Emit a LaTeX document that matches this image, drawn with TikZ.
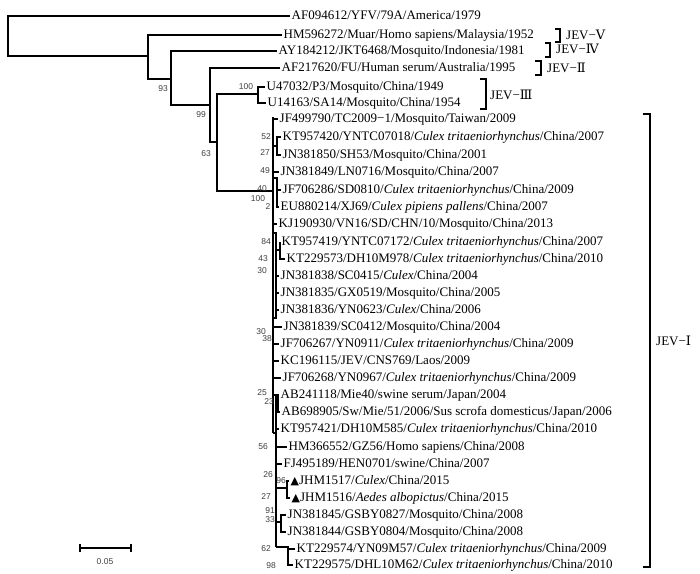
\documentclass[tikz,border=0pt]{standalone}
\usepackage{fontspec}
\setmainfont{Liberation Serif}
\newfontfamily\bsfont{Liberation Sans}
\newfontfamily\romfont{DejaVu Serif}
\newfontfamily\symfont{DejaVu Sans}
\begin{document}
\begin{tikzpicture}[x=1pt,y=-1pt,
  br/.style={line width=1.1pt},
  spine/.style={line width=1.8pt},
  leaf/.style={anchor=west,inner xsep=1.5pt,inner ysep=0pt,font=\fontsize{13}{13}\selectfont,text height=9pt,text depth=3pt},
  bs/.style={font=\bsfont\fontsize{8.5}{8.5}\selectfont,text=black!75,inner sep=0pt},
  clade/.style={anchor=west,font=\fontsize{13}{13}\selectfont,inner sep=0pt},
  brk/.style={line width=1.3pt}]
\useasboundingbox (0,0) rectangle (700,573);
% leaves
\node[leaf] (L1) at (290,16) {AF094612/YFV/79A/America/1979};
\node[leaf] (L2) at (282,35) {HM596272/Muar/Homo sapiens/Malaysia/1952};
\node[leaf] (L3) at (277,51) {AY184212/JKT6468/Mosquito/Indonesia/1981};
\node[leaf] (L4) at (280,68) {AF217620/FU/Human serum/Australia/1995};
\node[leaf] (L5) at (265,87) {U47032/P3/Mosquito/China/1949};
\node[leaf] (L6) at (266,103) {U14163/SA14/Mosquito/China/1954};
\node[leaf] (L7) at (278,119) {JF499790/TC2009−1/Mosquito/Taiwan/2009};
\node[leaf] (L8) at (281,137) {KT957420/YNTC07018/\textit{Culex tritaeniorhynchus}/China/2007};
\node[leaf] (L9) at (281,155) {JN381850/SH53/Mosquito/China/2001};
\node[leaf] (L10) at (279,172) {JN381849/LN0716/Mosquito/China/2007};
\node[leaf] (L11) at (281,190) {JF706286/SD0810/\textit{Culex tritaeniorhynchus}/China/2009};
\node[leaf] (L12) at (279,207) {EU880214/XJ69/\textit{Culex pipiens pallens}/China/2007};
\node[leaf] (L13) at (277,224) {KJ190930/VN16/SD/CHN/10/Mosquito/China/2013};
\node[leaf] (L14) at (280,242) {KT957419/YNTC07172/\textit{Culex tritaeniorhynchus}/China/2007};
\node[leaf] (L15) at (285,259) {KT229573/DH10M978/\textit{Culex tritaeniorhynchus}/China/2010};
\node[leaf] (L16) at (279,276) {JN381838/SC0415/\textit{Culex}/China/2004};
\node[leaf] (L17) at (279,293) {JN381835/GX0519/Mosquito/China/2005};
\node[leaf] (L18) at (279,310) {JN381836/YN0623/\textit{Culex}/China/2006};
\node[leaf] (L19) at (282,327) {JN381839/SC0412/Mosquito/China/2004};
\node[leaf] (L20) at (279,344) {JF706267/YN0911/\textit{Culex tritaeniorhynchus}/China/2009};
\node[leaf] (L21) at (279,361) {KC196115/JEV/CNS769/Laos/2009};
\node[leaf] (L22) at (281,378) {JF706268/YN0967/\textit{Culex tritaeniorhynchus}/China/2009};
\node[leaf] (L23) at (279,395) {AB241118/Mie40/swine serum/Japan/2004};
\node[leaf] (L24) at (280,412) {AB698905/Sw/Mie/51/2006/Sus scrofa domesticus/Japan/2006};
\node[leaf] (L25) at (279,429) {KT957421/DH10M585/\textit{Culex tritaeniorhynchus}/China/2010};
\node[leaf] (L26) at (287,447) {HM366552/GZ56/Homo sapiens/China/2008};
\node[leaf] (L27) at (282,464) {FJ495189/HEN0701/swine/China/2007};
\node[leaf] (L28) at (289,481) {{\symfont\fontsize{11}{11}\selectfont ▲}JHM1517/\textit{Culex}/China/2015};
\node[leaf] (L29) at (290,498) {{\symfont\fontsize{11}{11}\selectfont ▲}JHM1516/\textit{Aedes albopictus}/China/2015};
\node[leaf] (L30) at (286,515) {JN381845/GSBY0827/Mosquito/China/2008};
\node[leaf] (L31) at (286,532) {JN381844/GSBY0804/Mosquito/China/2008};
\node[leaf] (L32) at (295,549) {KT229574/YN09M57/\textit{Culex tritaeniorhynchus}/China/2009};
\node[leaf] (L33) at (293,565) {KT229575/DHL10M62/\textit{Culex tritaeniorhynchus}/China/2010};
% internal nodes
\coordinate (nR) at (8,36);
\coordinate (nA) at (148,56);
\coordinate (nB) at (171,79);
\coordinate (nC) at (210,105);
\coordinate (nD) at (217,142);
\coordinate (n3) at (258,94);
\coordinate (nI) at (273,191);
\draw[br] (L1.west) -| (nR) |- (nA);
\draw[br] (L2.west) -| (nA) |- (nB);
\draw[br] (L3.west) -| (nB) |- (nC);
\draw[br] (L4.west) -| (nC) |- (nD);
\draw[br] (n3) -| (nD) |- (nI);
\draw[br] (L5.west) -| (n3) |- (L6.west);
% JEV-I clade
\coordinate (sT) at (273,117);
\coordinate (sM) at (273,433);
\coordinate (sM2) at (276,433);
\coordinate (sB) at (276,547);
\draw[spine] (sT) -- (sM);
\draw[line width=1.5pt] (sM) -- (sM2) -- (sB);
\coordinate (n52) at (277,146);
\coordinate (nbox) at (277,198);
\coordinate (nin) at (276,233);
\coordinate (nin2) at (276,318);
\coordinate (n84) at (280,250);
\coordinate (nab) at (278,403);
\coordinate (nab0) at (276,395);
\coordinate (n96) at (287,488);
\coordinate (n91) at (281,522);
\coordinate (n62) at (288,547);
\draw[br] (273,119) -- (L7.west);
\draw[br] (L8.west) -| (n52) |- (L9.west);
\draw[br] (273,146) -- (n52);
\draw[br] (273,172) -- (L10.west);
\draw[br] (L11.west) -| (nbox) |- (L12.west);
\draw[br] (274,178) -- (277,178) -- (nbox);
\draw[br] (273,224) -- (L13.west);
\draw[br] (273,233) -- (nin) -- (nin2) -- (273,318);
\draw[br] (L14.west) -| (n84) |- (L15.west);
\draw[br] (nin |- n84) -- (n84);
\draw[br] (276,276) -- (L16.west);
\draw[br] (276,293) -- (L17.west);
\draw[br] (276,310) -- (L18.west);
\draw[br] (273,327) -- (L19.west);
\draw[br] (273,344) -- (L20.west);
\draw[br] (273,361) -- (L21.west);
\draw[br] (273,378) -- (L22.west);
\draw[br] (273,395) -- (nab0) -- (sM2);
\draw[br] (L23.west) -| (nab) |- (L24.west);
\draw[br] (276,403) -- (nab);
\draw[br] (276,429) -- (L25.west);
\draw[br] (276,447) -- (L26.west);
\draw[br] (276,464) -- (L27.west);
\draw[br] (L28.west) -| (n96) |- (L29.west);
\draw[br] (276,488) -- (n96);
\draw[br] (L30.west) -| (n91) |- (L31.west);
\draw[br] (276,522) -- (n91);
\draw[br] (sB) -- (n62) |- (L33.west);
\draw[br] (288,549) -- (L32.west);
% bootstrap values
\node[bs] at (163,89) {93};
\node[bs] at (201,115) {99};
\node[bs] at (206,154) {63};
\node[bs] at (246,87) {100};
\node[bs] at (266,137) {52};
\node[bs] at (265,153) {27};
\node[bs] at (265,171) {49};
\node[bs] at (262,189) {40};
\node[bs] at (258,199) {100};
\node[bs] at (268,207) {2};
\node[bs] at (266,242) {84};
\node[bs] at (263,259) {43};
\node[bs] at (262,271) {30};
\node[bs] at (261,332) {30};
\node[bs] at (267,339) {38};
\node[bs] at (262,393) {25};
\node[bs] at (269,402) {23};
\node[bs] at (263,447) {56};
\node[bs] at (268,475) {26};
\node[bs] at (281,481) {96};
\node[bs] at (266,497) {27};
\node[bs] at (270,511) {91};
\node[bs] at (270,520) {33};
\node[bs] at (266,549) {62};
\node[bs] at (271,566) {98};
% clade brackets
\draw[brk] (555,29) -- (560,29) -- (560,42) -- (555,42);
\node[clade] (c5) at (566,35) {JEV−{\romfont Ⅴ}};
\draw[brk] (545,43) -- (550,43) -- (550,57) -- (545,57);
\node[clade] (c4) at (556,49) {JEV−{\romfont Ⅳ}};
\draw[brk] (535,61) -- (541,61) -- (541,75) -- (535,75);
\node[clade] (c2) at (547,68) {JEV−{\romfont Ⅱ}};
\draw[brk] (480,79) -- (486,79) -- (486,109) -- (480,109);
\node[clade] (c3) at (490,95) {JEV−{\romfont Ⅲ}};
\draw[brk] (643,114) -- (650,114) -- (650,567) -- (643,567);
\node[clade] (c1) at (656,341) {JEV−{\romfont Ⅰ}};
% scale bar
\coordinate (sb1) at (80,548);
\coordinate (sb2) at (131,548);
\draw[br] (sb1) -- (sb2);
\draw[br] ([yshift=-4pt]sb1) -- ([yshift=4pt]sb1);
\draw[br] ([yshift=-4pt]sb2) -- ([yshift=4pt]sb2);
\node[bs] at (105,562) {0.05};
\end{tikzpicture}
\end{document}
